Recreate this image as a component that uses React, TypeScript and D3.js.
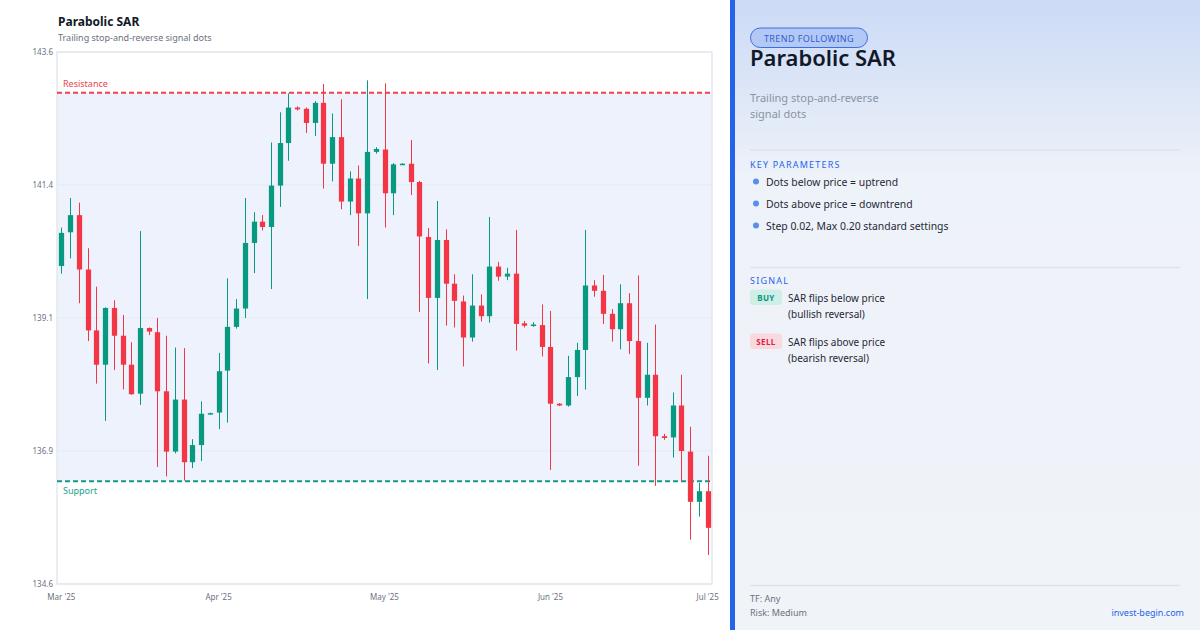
import React, { useEffect } from 'react';
import * as d3 from 'd3';

const openV = [139.98,140.55,140.84,139.92,138.89,138.31,139.27,138.80,138.31,137.82,138.93,138.86,137.86,136.84,137.72,136.66,136.95,137.48,137.50,138.21,138.95,139.26,140.37,140.73,140.64,141.34,142.06,142.66,142.64,142.40,142.74,141.71,142.16,141.07,141.46,140.87,141.91,141.95,141.21,141.70,141.71,141.40,140.47,139.44,140.42,139.68,139.38,138.77,139.31,139.13,139.97,139.80,139.85,139.01,138.97,138.98,138.61,137.65,137.62,138.10,138.56,139.65,139.56,139.17,138.91,139.35,138.71,137.75,138.14,137.10,137.08,137.62,136.84,135.99,136.17];
const highV = [140.63,141.13,141.05,140.28,139.63,139.28,139.40,139.15,138.69,140.57,138.94,139.10,138.80,138.60,138.59,137.05,137.69,137.50,138.51,139.77,139.42,141.13,140.89,140.84,142.07,142.58,142.90,142.68,142.66,142.77,143.06,142.56,142.80,141.58,141.68,143.12,141.99,143.07,141.72,141.72,142.11,141.42,140.62,141.08,140.60,139.84,139.48,139.84,139.50,140.81,140.05,139.95,140.59,139.05,139.03,139.33,139.22,137.66,138.46,138.68,140.59,139.74,139.83,139.25,139.67,139.52,139.82,138.68,138.99,137.14,137.84,138.14,137.26,136.31,136.77];
const lowV = [139.85,140.11,139.35,138.71,137.99,137.36,138.22,137.89,137.80,137.63,138.81,136.58,136.42,136.81,136.35,136.56,136.68,137.47,137.22,137.33,138.92,139.10,139.86,140.58,139.59,140.98,141.76,142.61,142.23,142.18,141.29,141.41,140.94,140.84,140.32,139.42,141.88,140.63,140.84,141.69,141.18,139.20,138.33,138.22,138.97,138.94,138.28,138.70,139.04,139.02,139.73,139.74,138.55,138.94,138.95,138.45,136.53,137.61,137.60,137.78,137.89,139.46,139.00,138.70,138.57,138.49,136.60,137.62,136.26,137.04,136.74,136.33,135.35,135.74,135.09];
const closeV = [140.54,140.84,139.92,138.89,138.31,139.27,138.80,138.31,137.81,138.93,138.87,137.86,136.84,137.72,136.66,136.95,137.48,137.49,138.20,138.95,139.26,140.37,140.73,140.64,141.34,142.06,142.66,142.63,142.40,142.74,141.71,142.16,141.07,141.46,140.87,141.91,141.96,141.21,141.70,141.71,141.40,140.48,139.44,140.42,139.68,139.39,138.77,139.31,139.13,139.97,139.80,139.85,139.00,138.97,138.99,138.61,137.65,137.62,138.10,138.56,139.65,139.56,139.17,138.91,139.35,138.71,137.75,138.14,137.10,137.07,137.62,136.85,135.99,136.17,135.55];

const yTickValues = [134.6, 136.85, 139.1, 141.35, 143.6];
const yTickLabels = ['134.6', '136.9', '139.1', '141.4', '143.6'];
const xTickLabels = ["Mar '25", "Apr '25", "May '25", "Jun '25", "Jul '25"];
const xTickIndex = [0, 18, 37, 56, 74];
const resistanceLevel = 142.91;
const supportLevel = 136.34;

const keyParams = ['Dots below price = uptrend', 'Dots above price = downtrend', 'Step 0.02, Max 0.20 standard settings'];

const FONT = "'Noto Sans', 'Open Sans', sans-serif";
const UP = '#089981';
const DOWN = '#f23645';

export default function App() {
  useEffect(() => {
    document.body.style.margin = '0';
  }, []);

  const W = 1200, H = 630;
  const left = 57, right = 712, top = 52, bottom = 584;
  const n = closeV.length;
  const x = d3.scaleLinear().domain([-0.5, n - 0.5]).range([left, right]);
  const y = d3.scaleLinear().domain([134.6, 143.6]).range([bottom, top]);
  const step = x(1) - x(0);
  const bw = step * 0.6;

  const candles = d3.range(n).map(i => {
    const o = openV[i], c = closeV[i], h = highV[i], l = lowV[i];
    const up = c >= o;
    const col = up ? UP : DOWN;
    const cx = Math.round(x(i)) + 0.5;
    const yt = y(Math.max(o, c)), yb = y(Math.min(o, c));
    return (
      <g key={i}>
        <line x1={cx} x2={cx} y1={y(h)} y2={y(l)} stroke={col} strokeWidth={1} />
        <rect x={cx - bw / 2} y={yt} width={bw} height={Math.max(1.5, yb - yt)} fill={col} />
      </g>
    );
  });

  return (
    <div style={{ position: 'absolute', left: 0, top: 0 }}>
      <svg width={W} height={H} style={{ display: 'block', fontFamily: FONT }}>
        <defs>
          <linearGradient id="panelBg" x1="0" y1="0" x2="0" y2="1">
            <stop offset="0" stopColor="#cbdaf6" />
            <stop offset="0.28" stopColor="#eef2f9" />
            <stop offset="1" stopColor="#f0f3f8" />
          </linearGradient>
        </defs>
        <rect x={0} y={0} width={W} height={H} fill="#ffffff" />

        {/* Left chart */}
        <text x={58} y={25.5} fontSize={12} fontWeight={700} fill="#111827">Parabolic SAR</text>
        <text x={58} y={41} fontSize={9} fill="#6b7280">Trailing stop-and-reverse signal dots</text>

        <rect x={left} y={y(resistanceLevel)} width={right - left} height={y(supportLevel) - y(resistanceLevel)} fill="#eef2fc" />
        {yTickValues.map((v, i) => (
          <g key={i}>
            <line x1={left} x2={right} y1={y(v)} y2={y(v)} stroke="#e5e9f0" strokeWidth={1} />
            <text x={53} y={y(v)} dy="0.35em" textAnchor="end" fontSize={8} fill="#6b7280">{yTickLabels[i]}</text>
          </g>
        ))}
        <rect x={left} y={top} width={right - left} height={bottom - top} fill="none" stroke="#e3e8ef" strokeWidth={1.5} />

        <line x1={left} x2={right} y1={y(resistanceLevel)} y2={y(resistanceLevel)} stroke="#ef4050" strokeWidth={2} strokeDasharray="5,3" />
        <text x={63} y={y(resistanceLevel) - 5.5} fontSize={9} fill="#e5484d">Resistance</text>
        <line x1={left} x2={right} y1={y(supportLevel)} y2={y(supportLevel)} stroke="#129a80" strokeWidth={2} strokeDasharray="5,3" />
        <text x={63} y={y(supportLevel) + 13} fontSize={9} fill="#17a389">Support</text>

        {candles}

        {xTickIndex.map((ix, i) => (
          <text key={i} x={x(ix)} y={600} textAnchor="middle" fontSize={8} fill="#6b7280">{xTickLabels[i]}</text>
        ))}

        {/* Right panel */}
        <rect x={730} y={0} width={470} height={H} fill="url(#panelBg)" />
        <rect x={730} y={0} width={5} height={H} fill="#2563eb" />

        <rect x={750.5} y={28} width={117} height={19.5} rx={9.75} fill="#b4c8f5" stroke="#3b6fe0" strokeWidth={1} />
        <text x={809} y={41.5} textAnchor="middle" fontSize={9} fill="#2f5fd0" letterSpacing={0.4}>TREND FOLLOWING</text>
        <text x={750} y={65.5} fontSize={22} fontWeight={600} fill="#111827">Parabolic SAR</text>

        <text x={750} y={101.5} fontSize={11} fill="#8b93a2">Trailing stop-and-reverse</text>
        <text x={750} y={118} fontSize={11} fill="#8b93a2">signal dots</text>

        <line x1={750} x2={1180} y1={150} y2={150} stroke="#dde3ea" strokeWidth={1.5} />
        <text x={750} y={167.5} fontSize={9} fill="#2563eb" letterSpacing={1.2}>KEY PARAMETERS</text>
        {keyParams.map((t, i) => (
          <g key={i}>
            <circle cx={756} cy={181.5 + i * 22} r={3} fill="#5b8def" />
            <text x={766} y={185.5 + i * 22} fontSize={10.4} fill="#1f2937">{t}</text>
          </g>
        ))}

        <line x1={750} x2={1180} y1={267.5} y2={267.5} stroke="#dde3ea" strokeWidth={1.5} />
        <text x={750} y={284} fontSize={9} fill="#2563eb" letterSpacing={1.2}>SIGNAL</text>

        <rect x={750} y={289.5} width={32} height={15.5} rx={3} fill="#cfeee6" />
        <text x={766} y={301} textAnchor="middle" fontSize={8} fontWeight={700} fill="#0d9488" letterSpacing={0.4}>BUY</text>
        <text x={788} y={301.5} fontSize={10} fill="#1f2937">SAR flips below price</text>
        <text x={788} y={317.5} fontSize={10} fill="#1f2937">(bullish reversal)</text>

        <rect x={750} y={333.5} width={32} height={15.5} rx={3} fill="#f8d9de" />
        <text x={766} y={345} textAnchor="middle" fontSize={8} fontWeight={700} fill="#e11d48" letterSpacing={0.4}>SELL</text>
        <text x={788} y={345.5} fontSize={10} fill="#1f2937">SAR flips above price</text>
        <text x={788} y={361.5} fontSize={10} fill="#1f2937">(bearish reversal)</text>

        <line x1={750} x2={1180} y1={585.5} y2={585.5} stroke="#dde3ea" strokeWidth={1.5} />
        <text x={750} y={601.5} fontSize={9} fill="#6b7280">TF: Any</text>
        <text x={750} y={615.5} fontSize={9} fill="#6b7280">Risk: Medium</text>
        <text x={1184} y={615.5} textAnchor="end" fontSize={9} fill="#2563eb">invest-begin.com</text>
      </svg>
    </div>
  );
}
